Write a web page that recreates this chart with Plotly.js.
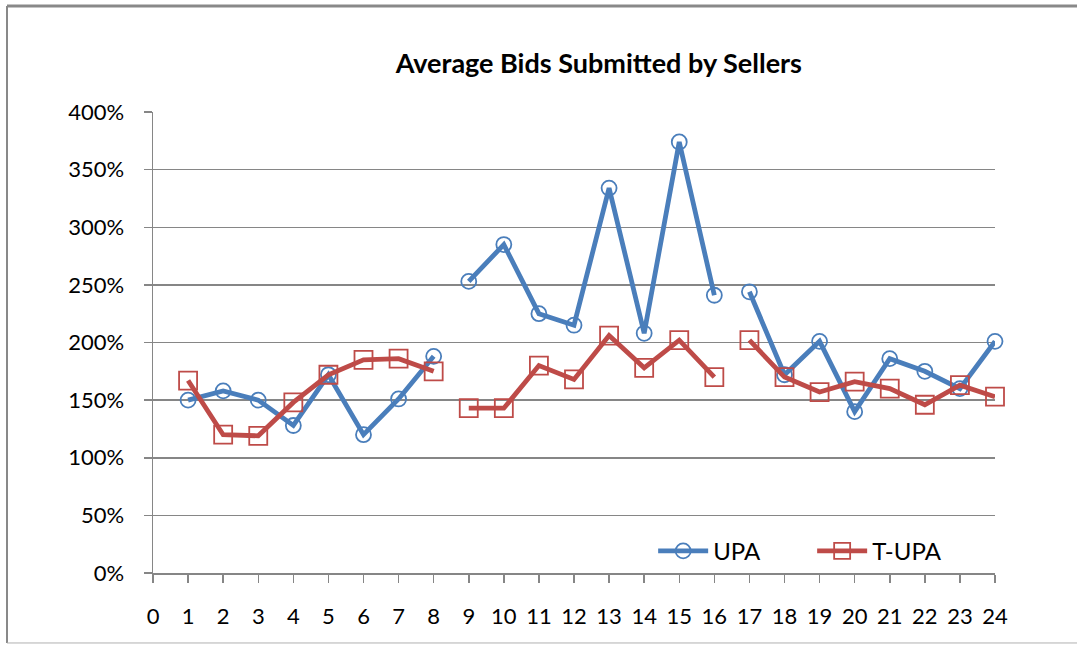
<!DOCTYPE html>
<html>
<head>
<meta charset="utf-8">
<script src="https://cdn.plot.ly/plotly-3.0.1.min.js"></script>
<style>
  html, body { margin: 0; padding: 0; background: #ffffff; }
  #chart { width: 1077px; height: 645px; }
</style>
</head>
<body>
<div id="chart"></div>
<script>
// Round numbers (x axis)
const rounds = [1,2,3,4,5,6,7,8,9,10,11,12,13,14,15,16,17,18,19,20,21,22,23,24];
// Session each round belongs to (lines are broken between sessions)
const sessions = [1,1,1,1,1,1,1,1,2,2,2,2,2,2,2,2,3,3,3,3,3,3,3,3];
// Average bids submitted by sellers, in percent
const upa  = [150,158,150,128,172,120,151,188, 253,285,225,215,334,208,374,241, 244,172,201,140,186,175,160,201];
const tupa = [167,120,119,148,172,185,186,175, 143,143,180,168,206,178,202,170, 202,170,157,166,160,146,163,153];
// Tick labels
const xTicks = [0,1,2,3,4,5,6,7,8,9,10,11,12,13,14,15,16,17,18,19,20,21,22,23,24];
const yTicks = [0,50,100,150,200,250,300,350,400];

function withGaps(values) {
  const xs = [], ys = [];
  for (let i = 0; i < rounds.length; i++) {
    if (i > 0 && sessions[i] !== sessions[i-1]) { xs.push(null); ys.push(null); }
    xs.push(rounds[i]); ys.push(values[i]);
  }
  return {x: xs, y: ys};
}

const blue = '#4a7ebb';
const red = '#be4b48';
const gridCol = '#868686';
const font = 'Lato, "Open Sans", sans-serif';

const a = withGaps(upa), b = withGaps(tupa);
const traces = [
  { x: a.x, y: a.y, name: 'UPA', type: 'scatter', mode: 'lines+markers', cliponaxis: false,
    line: {color: blue, width: 4.8},
    marker: {symbol: 'circle-open', size: 15, color: blue, line: {width: 1.8, color: blue}},
    connectgaps: false },
  { x: b.x, y: b.y, name: 'T-UPA', type: 'scatter', mode: 'lines+markers', cliponaxis: false,
    line: {color: red, width: 4.8},
    marker: {symbol: 'square-open', size: 18, color: red, line: {width: 1.8, color: red}},
    connectgaps: false }
];

const layout = {
  width: 1077, height: 645,
  margin: {l: 153, r: 82, t: 112, b: 72, pad: 0},
  paper_bgcolor: '#ffffff', plot_bgcolor: '#ffffff',
  font: {family: font, size: 22, color: '#000000'},
  title: {text: '<b>Average Bids Submitted by Sellers</b>', font: {family: font, size: 27, color: '#000'},
          x: 0.556, xref: 'container', xanchor: 'center', y: 0.902, yref: 'container', yanchor: 'middle'},
  showlegend: true,
  legend: {orientation: 'h', x: 0.594, xanchor: 'left', y: 0.047, yanchor: 'middle',
           font: {family: font, size: 24, color: '#000'}, bgcolor: 'rgba(0,0,0,0)', itemwidth: 50,
           entrywidth: 94, entrywidthmode: 'pixels', tracegroupgap: 0},
  xaxis: {range: [0, 24], tickvals: xTicks, ticktext: xTicks.map(String), showgrid: false, zeroline: false,
          showline: true, linecolor: gridCol, linewidth: 1.5, ticks: 'outside', ticklen: 8, tickwidth: 1.5,
          tickcolor: gridCol, ticklabelstandoff: 15, tickfont: {family: font, size: 22, color: '#000'},
          fixedrange: true},
  yaxis: {range: [0, 400], tickvals: yTicks, ticktext: yTicks.map(v => v + '%'), showgrid: true,
          gridcolor: gridCol, gridwidth: 1.5, zeroline: false,
          showline: true, linecolor: gridCol, linewidth: 1.5, ticks: 'outside', ticklen: 8, tickwidth: 1.5,
          tickcolor: gridCol, ticklabelstandoff: 15, tickfont: {family: font, size: 22, color: '#000'},
          fixedrange: true},
  shapes: [
    {type: 'line', xref: 'paper', yref: 'paper', x0: -0.1734, x1: 1.10, y0: 1.2299, y1: 1.2299,
     line: {color: '#898989', width: 3}},
    {type: 'line', xref: 'paper', yref: 'paper', x0: -0.1734, x1: -0.1734, y0: 1.2299, y1: -0.1518,
     line: {color: '#898989', width: 2}},
    {type: 'line', xref: 'paper', yref: 'paper', x0: -0.1734, x1: 1.10, y0: -0.1518, y1: -0.1518,
     line: {color: '#b0b0b0', width: 1}}
  ]
};

Plotly.newPlot('chart', traces, layout, {displayModeBar: false, staticPlot: true});
</script>
</body>
</html>
